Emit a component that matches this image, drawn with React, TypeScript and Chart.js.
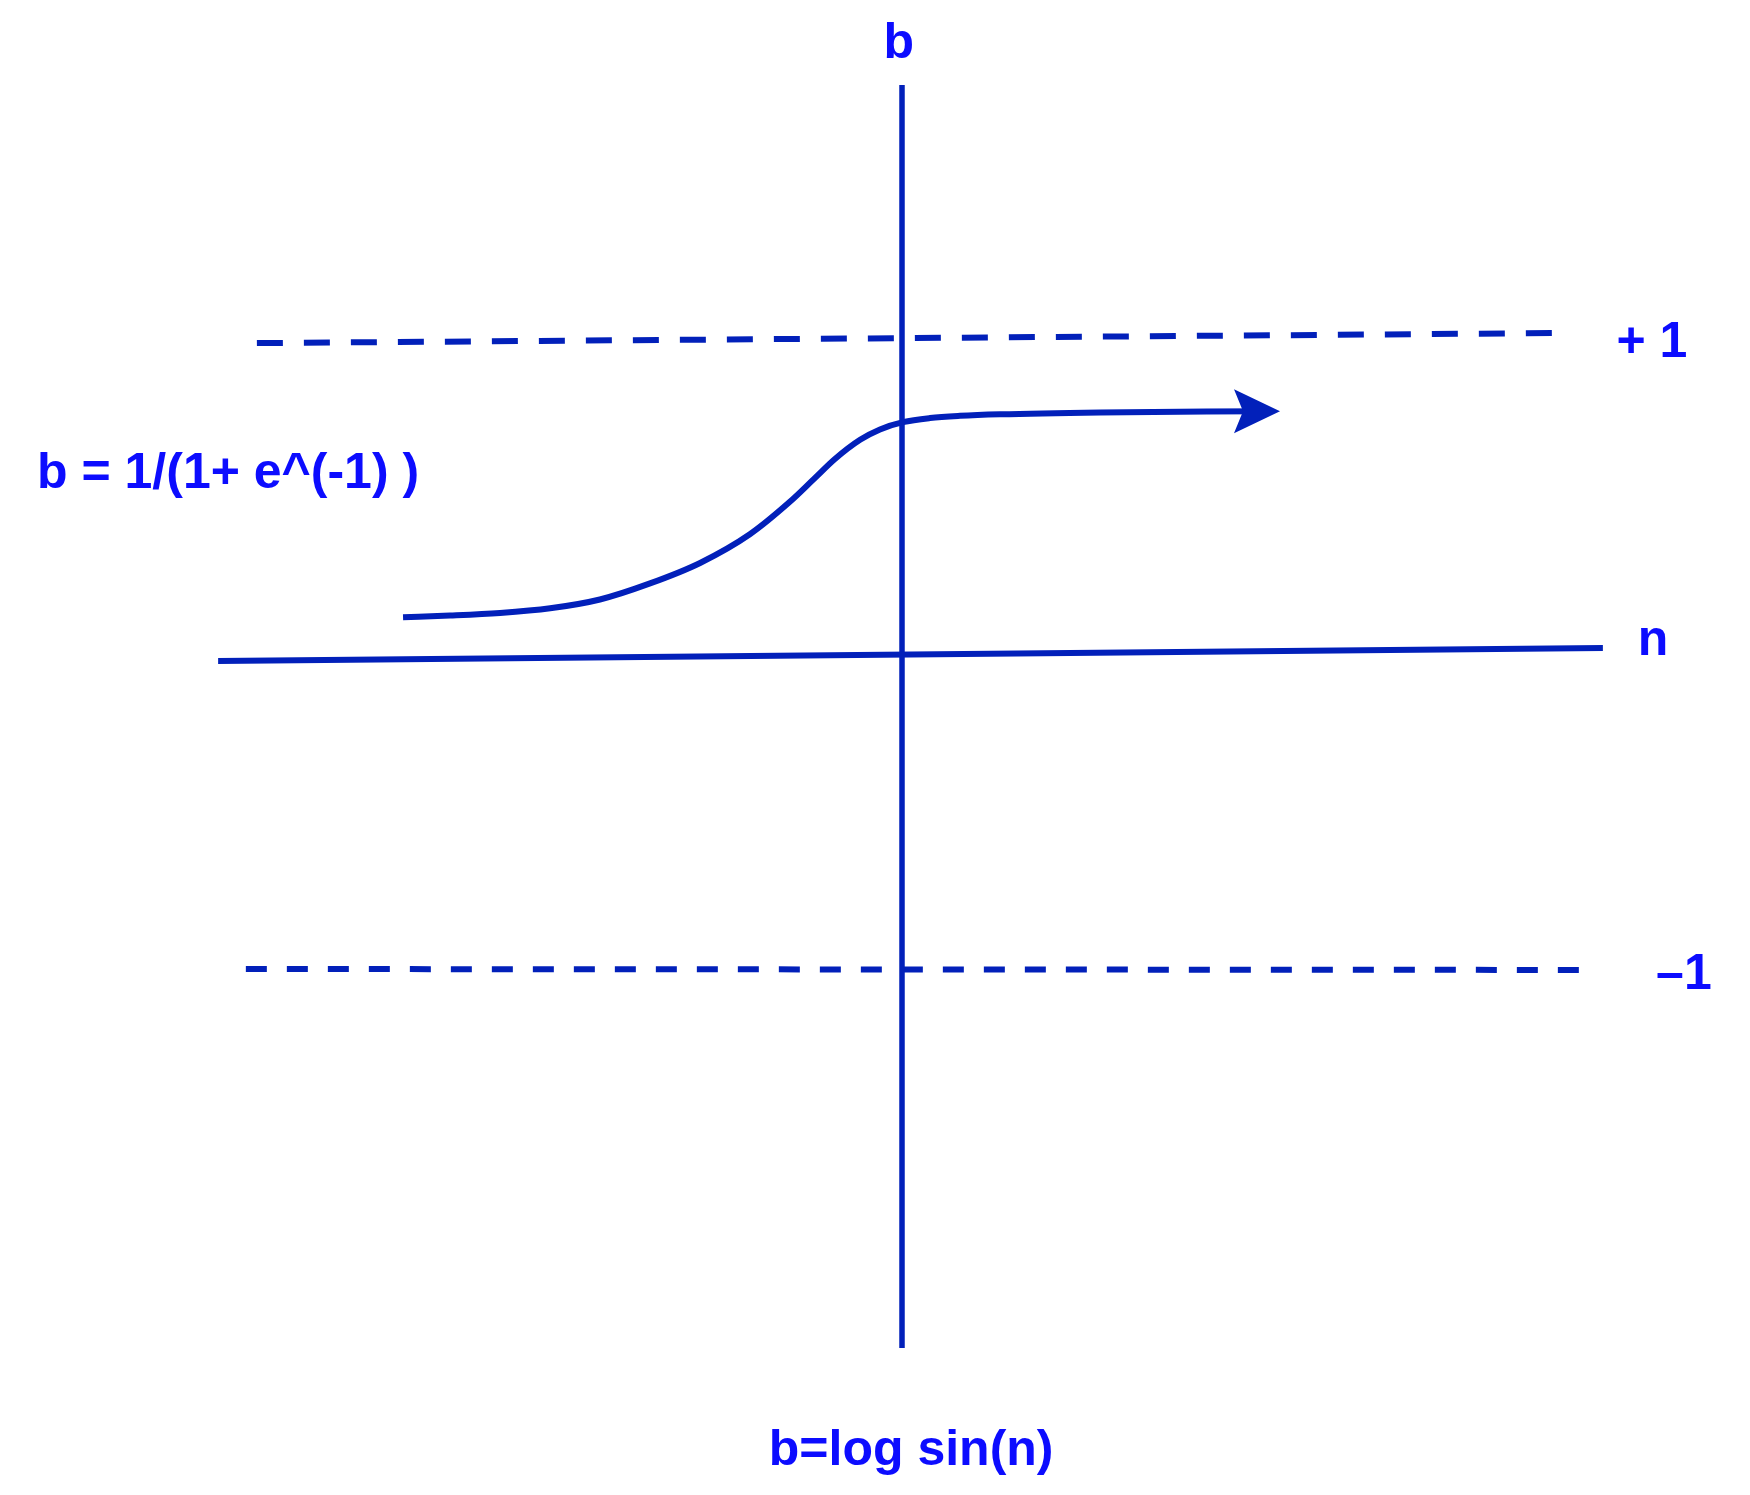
import React, { useEffect, useRef } from "react";
import { Chart, registerables } from "chart.js";

Chart.register(...registerables);

// ---- data (diagram units: n along horizontal, b along vertical) ----
const sigmoidN = [-1.584, -1.435, -1.276, -1.117, -0.959, -0.8, -0.641, -0.483, -0.356, -0.276, -0.213, -0.133, -0.07, 0.003, 0.089, 0.184, 0.311, 0.629, 1.149];
const sigmoidB = [0.117, 0.122, 0.13, 0.145, 0.173, 0.224, 0.289, 0.38, 0.483, 0.559, 0.619, 0.68, 0.713, 0.736, 0.749, 0.756, 0.761, 0.767, 0.771];
const arrowTip = [1.2, 0.771];

const bAxisN = [0, 0];
const bAxisB = [1.806, -2.203];
const nAxisN = [-2.171, 2.225];
const nAxisB = [-0.022, 0.019];

const upperDashN = [-2.048, 2.105];
const upperDashB = [0.987, 1.019];
const lowerDashN = [-2.083, 2.194];
const lowerDashB = [-1.0, -1.003];

const labelTexts = ["b", "+ 1", "n", "\u20131", "b = 1/(1+ e^(-1) )", "b=log sin(n)"];

// ---- layout (not data) ----
const labelAnchors = [
  { x: -0.01, y: 1.892, align: "center" },
  { x: 2.268, y: 0.943, align: "left" },
  { x: 2.336, y: -0.003, align: "left" },
  { x: 2.394, y: -1.063, align: "left" },
  { x: -2.746, y: 0.527, align: "left" },
  { x: 0.029, y: -2.575, align: "center" },
];

const LINE_COLOR = "#0220ba";
const TEXT_COLOR = "#0c0cff";

const zip = (xs: number[], ys: number[]) => xs.map((x, i) => ({ x, y: ys[i] }));

const overlayPlugin = {
  id: "overlay",
  afterDatasetsDraw(chart: any) {
    const { ctx, scales } = chart;
    const xs = scales.x;
    const ys = scales.y;
    // arrow head
    const tx = xs.getPixelForValue(arrowTip[0]);
    const ty = ys.getPixelForValue(arrowTip[1]);
    ctx.save();
    ctx.fillStyle = LINE_COLOR;
    ctx.beginPath();
    ctx.moveTo(tx, ty);
    ctx.lineTo(tx - 46, ty - 22);
    ctx.lineTo(tx - 37, ty);
    ctx.lineTo(tx - 46, ty + 22);
    ctx.closePath();
    ctx.fill();
    // labels
    ctx.fillStyle = TEXT_COLOR;
    ctx.font = "bold 50px 'Liberation Sans', Arial, sans-serif";
    ctx.textBaseline = "alphabetic";
    labelTexts.forEach((t, i) => {
      const a = labelAnchors[i];
      ctx.textAlign = a.align;
      ctx.fillText(t, xs.getPixelForValue(a.x), ys.getPixelForValue(a.y));
    });
    ctx.restore();
  },
};

export default function App() {
  const ref = useRef<HTMLCanvasElement | null>(null);
  useEffect(() => {
    if (!ref.current) return;
    const base = {
      borderColor: LINE_COLOR,
      pointRadius: 0,
      fill: false,
      showLine: true,
    };
    const chart = new Chart(ref.current, {
      type: "line",
      data: {
        datasets: [
          { ...base, data: zip(bAxisN, bAxisB), borderWidth: 5.5, borderCapStyle: "butt" },
          { ...base, data: zip(nAxisN, nAxisB), borderWidth: 6, borderCapStyle: "butt" },
          { ...base, data: zip(upperDashN, upperDashB), borderWidth: 6, borderDash: [26, 21] },
          { ...base, data: zip(lowerDashN, lowerDashB), borderWidth: 6, borderDash: [21, 20] },
          { ...base, data: zip(sigmoidN, sigmoidB), borderWidth: 6, cubicInterpolationMode: "monotone", borderJoinStyle: "round" },
        ],
      },
      options: {
        animation: false,
        responsive: false,
        devicePixelRatio: 1,
        layout: { padding: 0, autoPadding: false },
        plugins: { legend: { display: false }, tooltip: { enabled: false }, title: { display: false } },
        events: [],
        scales: {
          x: { type: "linear", display: false, min: -902 / 315, max: 848 / 315 },
          y: { type: "linear", display: false, min: -841 / 315, max: 654 / 315 },
        },
      } as any,
      plugins: [overlayPlugin],
    } as any);
    return () => chart.destroy();
  }, []);
  return (
    <div style={{ position: "absolute", left: 0, top: 0, width: 1750, height: 1495, background: "#ffffff" }}>
      <canvas ref={ref} width={1750} height={1495} style={{ width: 1750, height: 1495, display: "block" }} />
    </div>
  );
}
